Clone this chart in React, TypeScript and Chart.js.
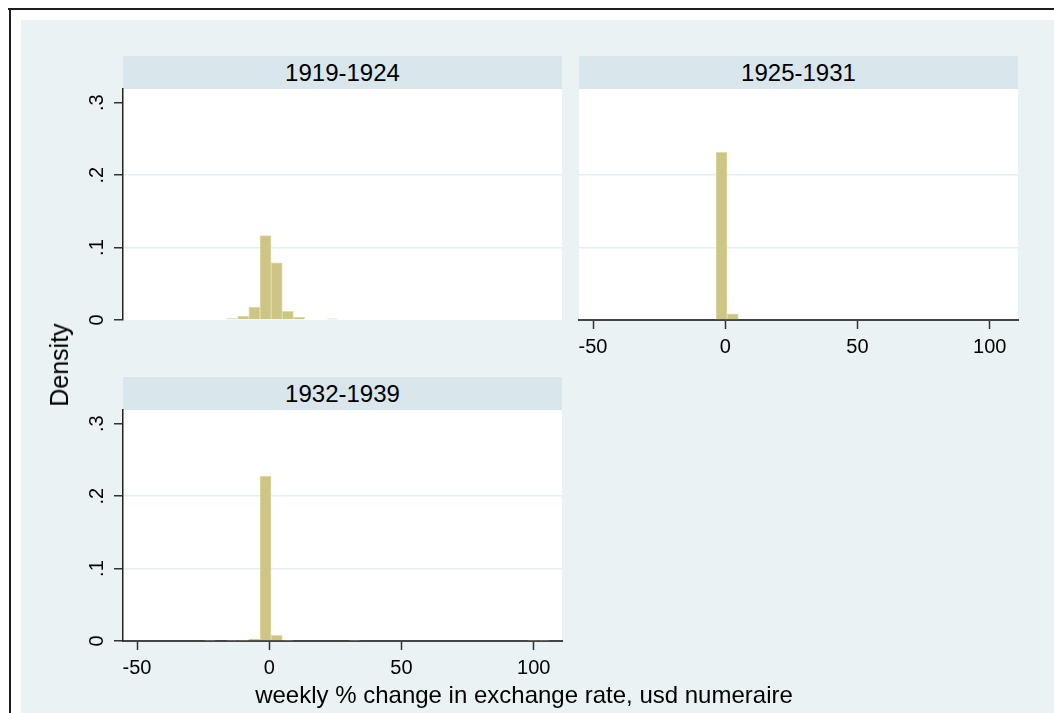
import React, { useEffect, useRef } from "react";
import { Chart, registerables } from "chart.js";

Chart.register(...registerables);

const FONT = "'Liberation Sans', Arial, Helvetica, sans-serif";

// ---- data ----
const panelTitles = ["1919-1924", "1925-1931", "1932-1939"];
const xAxisTitle = "weekly % change in exchange rate, usd numeraire";
const yAxisTitle = "Density";

// common histogram bins: left edge of bin 0 and bin width (percent)
const binStart = -24.55;
const binWidth = 4.21;

// density of each bin, bin k = [binStart + k*binWidth, binStart + (k+1)*binWidth)
const density1919to1924 = [0, 0, 0.0018, 0.0055, 0.018, 0.1165, 0.079, 0.012, 0.0041, 0, 0, 0.0015];
const density1925to1931 = [0, 0, 0, 0, 0, 0.2315, 0.0085];
const density1932to1939 = [
  0.001, 0, 0.001, 0.001, 0.0028, 0.2276, 0.0078, 0.001, 0, 0, 0, 0, 0, 0.001,
  0, 0, 0, 0, 0, 0, 0, 0, 0, 0, 0, 0, 0, 0, 0, 0.001, 0.001,
];

const xTickValues = [-50, 0, 50, 100];
const xTickLabels = ["-50", "0", "50", "100"];
const yTickValues = [0, 0.1, 0.2, 0.3];
const yTickLabels = ["0", ".1", ".2", ".3"];
const yGridValues = [0.1, 0.2];

const X_MIN = -55.3;
const X_MAX = 110.7;
const Y_MAX = 0.319;

// ---- style ----
const BG_OUTER = "#eaf2f3";
const BAND = "#d9e6eb";
const GRID = "#e6eff1";
const BAR_FILL = "#cdc584";
const BAR_EDGE = "#e2dcaa";

const PLOT_W = 439;
const PLOT_H = 231;
const Y_AXIS_W = 60;
const X_AXIS_H = 50;
const PAD_T = 10;
const PAD_R = 20;
const PAD_B = 14;

const plotBg = {
  id: "plotBg",
  beforeDraw(chart: any) {
    const { ctx, chartArea: a } = chart;
    ctx.save();
    ctx.fillStyle = "#ffffff";
    ctx.fillRect(a.left, a.top, a.right - a.left, a.bottom - a.top);
    ctx.restore();
  },
};

type PanelProps = {
  values: number[];
  title: string;
  left: number;
  top: number;
  showX: boolean;
  showY: boolean;
};

function Panel({ values, title, left, top, showX, showY }: PanelProps) {
  const ref = useRef<HTMLCanvasElement>(null);
  const cw = Y_AXIS_W + PLOT_W + PAD_R;
  const ch = PAD_T + PLOT_H + (showX ? X_AXIS_H : PAD_B);

  useEffect(() => {
    const data = values.map((v, k) => ({
      x: binStart + binWidth * (k + 0.5),
      y: v > 0 ? v : null,
    }));
    const chart = new Chart(ref.current as HTMLCanvasElement, {
      type: "bar",
      data: {
        datasets: [
          {
            data: data as any,
            backgroundColor: BAR_FILL,
            borderColor: BAR_EDGE,
            borderWidth: 1,
            categoryPercentage: 1,
            barPercentage: 1,
          },
        ],
      },
      options: {
        responsive: false,
        animation: false,
        devicePixelRatio: 1,
        layout: { padding: { top: PAD_T, right: PAD_R, bottom: showX ? 0 : PAD_B, left: 0 } },
        plugins: {
          legend: { display: false },
          tooltip: { enabled: false },
          title: { display: false },
        },
        scales: {
          x: {
            type: "linear",
            min: X_MIN,
            max: X_MAX,
            offset: false,
            display: showX,
            afterBuildTicks: (a: any) => {
              a.ticks = xTickValues.map((v) => ({ value: v }));
            },
            afterFit: (a: any) => {
              if (showX) a.height = X_AXIS_H;
              a.paddingLeft = 0;
              a.paddingRight = 0;
            },
            ticks: {
              autoSkip: false,
              minRotation: 0,
              maxRotation: 0,
              padding: 6,
              color: "#000",
              font: { family: FONT, size: 20 },
              callback: (_v: any, i: number) => xTickLabels[i],
            },
            grid: {
              offset: false,
              drawOnChartArea: false,
              drawTicks: true,
              tickLength: 9,
              tickWidth: 1.5,
              tickColor: "#333",
              color: "rgba(0,0,0,0)",
            },
            border: { display: true, color: "#444", width: 2 },
          },
          y: {
            type: "linear",
            min: 0,
            max: Y_MAX,
            display: true,
            afterBuildTicks: (a: any) => {
              a.ticks = yTickValues.map((v) => ({ value: v }));
            },
            afterFit: (a: any) => {
              a.width = Y_AXIS_W;
              a.paddingTop = 0;
              a.paddingBottom = 0;
            },
            ticks: {
              display: showY,
              autoSkip: false,
              minRotation: 90,
              maxRotation: 90,
              crossAlign: "center",
              padding: 8.5,
              color: "#000",
              font: { family: FONT, size: 20 },
              callback: (_v: any, i: number) => yTickLabels[i],
            },
            grid: {
              drawTicks: showY,
              tickLength: 9,
              tickWidth: 1.5,
              tickColor: "#333",
              lineWidth: 1.5,
              color: (ctx: any) =>
                ctx.tick && yGridValues.includes(ctx.tick.value) ? GRID : "rgba(0,0,0,0)",
            },
            border: { display: showY, color: "#222", width: 1.5 },
          },
        },
      } as any,
      plugins: [plotBg],
    });
    return () => chart.destroy();
  }, []);

  return (
    <>
      <div
        style={{
          position: "absolute",
          left,
          top: top - 33,
          width: PLOT_W,
          height: 33,
          background: BAND,
          color: "#000",
          fontSize: 24,
          lineHeight: "33px",
          textAlign: "center",
          fontFamily: FONT,
        }}
      >
        {title}
      </div>
      <canvas
        ref={ref}
        width={cw}
        height={ch}
        style={{
          position: "absolute",
          left: left - Y_AXIS_W,
          top: top - PAD_T,
          width: cw,
          height: ch,
          display: "block",
        }}
      />
    </>
  );
}

export default function App() {
  return (
    <div
      style={{
        position: "absolute",
        left: 0,
        top: 0,
        width: 1054,
        height: 713,
        overflow: "hidden",
        background: "#ffffff",
        fontFamily: FONT,
      }}
    >
      <div style={{ position: "absolute", left: 8, top: 8, width: 1046, height: 2, background: "#1e1e1e" }} />
      <div style={{ position: "absolute", left: 9, top: 8, width: 2, height: 705, background: "#1e1e1e" }} />
      <div style={{ position: "absolute", left: 21, top: 20, width: 1033, height: 693, background: BG_OUTER }} />

      <Panel values={density1919to1924} title={panelTitles[0]} left={123} top={89} showX={false} showY={true} />
      <Panel values={density1925to1931} title={panelTitles[1]} left={579} top={89} showX={true} showY={false} />
      <Panel values={density1932to1939} title={panelTitles[2]} left={123} top={410} showX={true} showY={true} />

      <div
        style={{
          position: "absolute",
          left: 59,
          top: 365,
          transform: "translate(-50%, -50%) rotate(-90deg)",
          fontSize: 25,
          lineHeight: "28px",
          whiteSpace: "nowrap",
          color: "#000",
        }}
      >
        {yAxisTitle}
      </div>
      <div
        style={{
          position: "absolute",
          left: 524,
          top: 695,
          transform: "translate(-50%, -50%)",
          fontSize: 24,
          lineHeight: "28px",
          whiteSpace: "nowrap",
          color: "#000",
        }}
      >
        {xAxisTitle}
      </div>
    </div>
  );
}
